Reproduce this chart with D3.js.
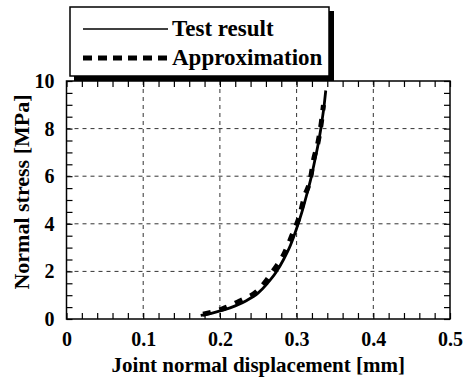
<!DOCTYPE html>
<html>
<head>
<meta charset="utf-8">
<script src="https://cdn.jsdelivr.net/npm/d3@7"></script>
<style>
  body { margin: 0; background: #fff; }
  svg text { font-family: "Liberation Serif", "Times New Roman", serif !important; font-weight: bold; fill: #000; }
</style>
</head>
<body>
<div id="chart"></div>
<script>
// test result curve (displacement mm, stress MPa)
var testX = [0.175, 0.19, 0.205, 0.22, 0.235, 0.25, 0.262, 0.273, 0.283, 0.292, 0.3, 0.307, 0.313, 0.319, 0.324, 0.329, 0.333, 0.336, 0.338];
var testY = [0.15, 0.25, 0.38, 0.55, 0.78, 1.1, 1.5, 1.95, 2.5, 3.1, 3.8, 4.5, 5.2, 5.95, 6.7, 7.5, 8.3, 9.0, 9.6];

// approximation points
var approxX = [0.178, 0.202, 0.226, 0.25, 0.269, 0.284, 0.295, 0.304, 0.31, 0.318, 0.322, 0.328, 0.332, 0.335];
var approxY = [0.2, 0.41, 0.76, 1.21, 2.0, 2.76, 3.6, 4.35, 5.12, 5.89, 6.67, 7.44, 8.2, 8.99];

var xTicks = [0, 0.1, 0.2, 0.3, 0.4, 0.5];
var yTicks = [0, 2, 4, 6, 8, 10];
var legendLabels = ["Test result", "Approximation"];

var svgWidth = 476, svgHeight = 383;
var margin = { top: 81, right: 26, bottom: 64, left: 66.5 };
var width = svgWidth - margin.left - margin.right;
var height = svgHeight - margin.top - margin.bottom;

var svg = d3.select("#chart").append("svg")
  .attr("width", svgWidth)
  .attr("height", svgHeight);

var chartGroup = svg.append("g")
  .attr("transform", `translate(${margin.left}, ${margin.top})`);

var xScale = d3.scaleLinear().domain([0, 0.5]).range([0, width]);
var yScale = d3.scaleLinear().domain([0, 10]).range([height, 0]);

// grid lines
chartGroup.append("g").selectAll("line")
  .data(xTicks.slice(1, -1))
  .enter().append("line")
  .attr("x1", d => xScale(d)).attr("x2", d => xScale(d))
  .attr("y1", 0).attr("y2", height)
  .attr("stroke", "#333").attr("stroke-width", 1)
  .attr("stroke-dasharray", "4,4");

chartGroup.append("g").selectAll("line")
  .data(yTicks.slice(1, -1))
  .enter().append("line")
  .attr("x1", 0).attr("x2", width)
  .attr("y1", d => yScale(d)).attr("y2", d => yScale(d))
  .attr("stroke", "#333").attr("stroke-width", 1)
  .attr("stroke-dasharray", "4,4");

// inner minor ticks on all four sides
var xMinor = d3.range(0, 0.5001, 0.02);
var yMinor = d3.range(0, 10.001, 0.5);

function tickAxis(axis, values, transform) {
  var g = chartGroup.append("g")
    .attr("transform", transform)
    .call(axis.tickValues(values).tickSize(-6).tickFormat(""));
  g.select(".domain").remove();
  g.selectAll("line").attr("stroke", "#000").attr("stroke-width", 1.2);
  return g;
}
tickAxis(d3.axisBottom(xScale), xMinor, `translate(0, ${height})`);
tickAxis(d3.axisTop(xScale), xMinor, "translate(0, 0)").selectAll("line").attr("y2", 6);
tickAxis(d3.axisLeft(yScale), yMinor, "translate(0, 0)").selectAll("line").attr("x2", 6);
tickAxis(d3.axisRight(yScale), yMinor, `translate(${width}, 0)`).selectAll("line").attr("x2", -6);

// frame
chartGroup.append("rect")
  .attr("x", 0).attr("y", 0)
  .attr("width", width).attr("height", height)
  .attr("fill", "none").attr("stroke", "#000").attr("stroke-width", 1.5);

// tick labels
var xAxis = chartGroup.append("g")
  .attr("transform", `translate(0, ${height})`)
  .call(d3.axisBottom(xScale).tickValues(xTicks).tickSize(0).tickPadding(13)
    .tickFormat(d => d === 0 ? "0" : d3.format(".1f")(d)));
xAxis.select(".domain").remove();
xAxis.attr("font-family", null).attr("font-size", null);
xAxis.selectAll("text").style("font-size", "20px");

var yAxis = chartGroup.append("g")
  .call(d3.axisLeft(yScale).tickValues(yTicks).tickSize(0).tickPadding(12));
yAxis.select(".domain").remove();
yAxis.attr("font-family", null).attr("font-size", null);
yAxis.selectAll("text").style("font-size", "20px");

// axis titles
chartGroup.append("text")
  .attr("x", width / 2).attr("y", height + 53)
  .attr("text-anchor", "middle")
  .style("font-size", "21px")
  .text("Joint normal displacement [mm]");

chartGroup.append("text")
  .attr("transform", "rotate(-90)")
  .attr("x", -height / 2 + 8).attr("y", -margin.left + 29)
  .attr("text-anchor", "middle")
  .style("font-size", "22px")
  .text("Normal stress [MPa]");

// curves
var testData = testX.map((x, i) => [x, testY[i]]);
var approxData = approxX.map((x, i) => [x, approxY[i]]);

var line = d3.line()
  .x(d => xScale(d[0]))
  .y(d => yScale(d[1]))
  .curve(d3.curveMonotoneX);

chartGroup.append("path")
  .datum(approxData)
  .attr("d", line)
  .attr("fill", "none")
  .attr("stroke", "#000")
  .attr("stroke-width", 5)
  .attr("stroke-dasharray", "8,9");

chartGroup.append("path")
  .datum(testData)
  .attr("d", line)
  .attr("fill", "none")
  .attr("stroke", "#000")
  .attr("stroke-width", 2.8);

// legend box with shadow
var legend = svg.append("g");
legend.append("rect")
  .attr("x", 74).attr("y", 11).attr("width", 260).attr("height", 70)
  .attr("fill", "#000");
legend.append("rect")
  .attr("x", 70).attr("y", 7).attr("width", 259).attr("height", 69)
  .attr("fill", "#fff").attr("stroke", "#000").attr("stroke-width", 1.5);

legend.append("line")
  .attr("x1", 83).attr("x2", 168).attr("y1", 29).attr("y2", 29)
  .attr("stroke", "#000").attr("stroke-width", 1.5);
legend.append("line")
  .attr("x1", 83).attr("x2", 170).attr("y1", 58).attr("y2", 58)
  .attr("stroke", "#000").attr("stroke-width", 5)
  .attr("stroke-dasharray", "9,6");

legend.selectAll(".lbl")
  .data(legendLabels)
  .enter().append("text")
  .attr("x", 172)
  .attr("y", (d, i) => 36 + i * 29)
  .style("font-size", "23px")
  .text(d => d);
</script>
</body>
</html>
